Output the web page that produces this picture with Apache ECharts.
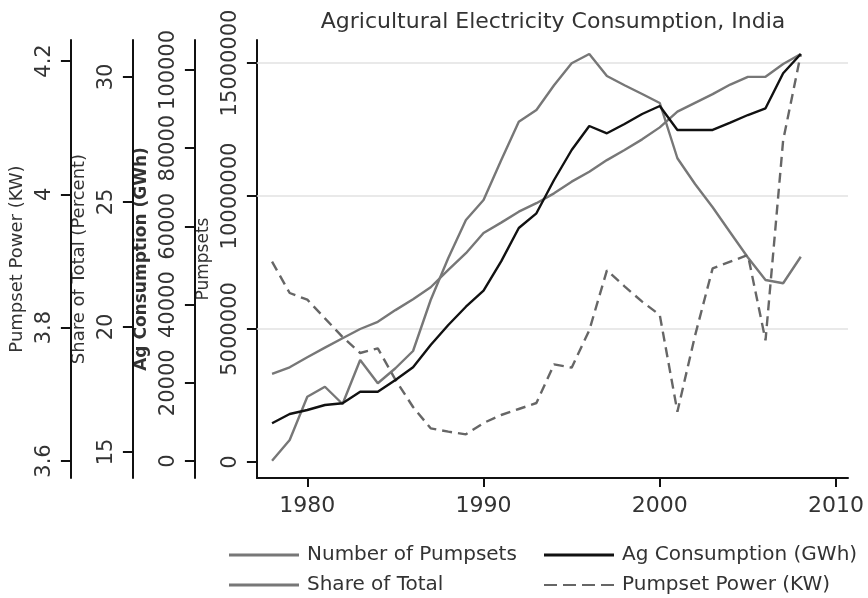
<!DOCTYPE html>
<html>
<head>
<meta charset="utf-8">
<title>Agricultural Electricity Consumption, India</title>
<script src="https://cdn.jsdelivr.net/npm/echarts@6/dist/echarts.min.js"></script>
<style>
  html, body { margin: 0; padding: 0; background: #fff; }
  #chart { width: 868px; height: 598px; }
</style>
</head>
<body>
<div id="chart"></div>
<script>
// Annual series, 1978-2008
const years = [1978, 1979, 1980, 1981, 1982, 1983, 1984, 1985, 1986, 1987,
               1988, 1989, 1990, 1991, 1992, 1993, 1994, 1995, 1996, 1997,
               1998, 1999, 2000, 2001, 2002, 2003, 2004, 2005, 2006, 2007, 2008];

// Number of electric pumpsets
const pumpsets = [3310000, 3560000, 3940000, 4300000, 4650000, 5000000, 5270000, 5710000, 6120000, 6570000,
                  7220000, 7850000, 8610000, 9000000, 9410000, 9730000, 10100000, 10540000, 10910000, 11350000,
                  11730000, 12130000, 12580000, 13170000, 13500000, 13830000, 14190000, 14480000, 14480000, 14960000, 15340000];

// Agricultural electricity consumption, GWh
const agConsumption = [9640, 12020, 13040, 14320, 14760, 17720, 17720, 20720, 23960, 29670,
                       34780, 39460, 43560, 51070, 59590, 63350, 71870, 79540, 85680, 83810,
                       86190, 88750, 90790, 84660, 84660, 84660, 86520, 88490, 90210, 99160, 104090];

// Agriculture's share of total consumption, percent
const shareOfTotal = [14.65, 15.48, 17.21, 17.61, 16.92, 18.68, 17.75, 18.35, 19.04, 21.08,
                      22.76, 24.28, 25.08, 26.67, 28.21, 28.68, 29.67, 30.55, 30.92, 30.04,
                      29.67, 29.32, 28.96, 26.75, 25.72, 24.79, 23.78, 22.78, 21.88, 21.75, 22.81];

// Average connected load per pumpset, KW
const pumpsetPower = [3.899, 3.852, 3.842, 3.814, 3.786, 3.762, 3.769, 3.722, 3.681, 3.649,
                      3.644, 3.640, 3.657, 3.669, 3.678, 3.687, 3.745, 3.740, 3.796, 3.886,
                      3.862, 3.839, 3.819, 3.674, 3.788, 3.889, 3.899, 3.909, 3.781, 4.081, 4.210];

// Tick labels
const yearTicks = [1980, 1990, 2000, 2010];
const pumpsetTicks = [0, 5000000, 10000000, 15000000];
const agTicks = [0, 20000, 40000, 60000, 80000, 100000];
const shareTicks = [15, 20, 25, 30];
const powerTicks = [3.6, 3.8, 4, 4.2];

const FONT = 'DejaVu Sans';
const LINE_W = 2.4;
const pair = arr => years.map((y, i) => [y, arr[i]]);

function leftAxis(name, min, max, offset, ticks, nameGap, nameSize, bold) {
  return {
    type: 'value', position: 'left', offset: offset, min: min, max: max,
    name: name, nameLocation: 'middle', nameGap: nameGap,
    nameTextStyle: { fontFamily: FONT, fontSize: nameSize, color: '#333', fontWeight: bold ? 'bold' : 'normal' },
    axisLine: { show: true, lineStyle: { color: '#111', width: 2 } },
    axisTick: { show: true, length: 10, customValues: ticks, lineStyle: { color: '#111', width: 2 } },
    axisLabel: { rotate: 90, margin: 16, fontFamily: FONT, fontSize: 21, color: '#333',
                 customValues: ticks, formatter: v => String(v) },
    splitLine: { show: false }
  };
}

// One legend block per key so the two columns line up like a 2x2 table
const SOLID = 'rect';
const DASHED = 'path://M0,0h13v2h-13z M19,0h13v2h-13z M38,0h13v2h-13z M57,0h13v2h-13z';
function legendKey(name, icon, left, top) {
  return {
    data: [{ name: name, icon: icon }], left: left, top: top, orient: 'horizontal',
    itemWidth: 70, itemHeight: 3, padding: 0,
    textStyle: { fontFamily: FONT, fontSize: 20, color: '#333', padding: [0, 0, 0, 3] }
  };
}

const chart = echarts.init(document.getElementById('chart'), null, { renderer: 'canvas' });

chart.setOption({
  animation: false,
  backgroundColor: '#fff',
  graphic: [{
    type: 'text', x: 553, y: 22,
    style: { text: 'Agricultural Electricity Consumption, India', font: '22px "DejaVu Sans"',
             fill: '#333', textAlign: 'center', textVerticalAlign: 'middle' }
  }],
  grid: { left: 254, right: 20, top: 40, bottom: 120, containLabel: false },
  xAxis: {
    type: 'value', min: 1977.14, max: 2010.68,
    axisLine: { show: true, onZero: false, lineStyle: { color: '#111', width: 2 } },
    axisTick: { show: true, length: 9, customValues: yearTicks, lineStyle: { color: '#111', width: 2 } },
    axisLabel: { margin: 17, fontFamily: FONT, fontSize: 22, color: '#333',
                 customValues: yearTicks, formatter: v => String(v) },
    splitLine: { show: false }
  },
  yAxis: [
    leftAxis('Pumpsets', -601500, 15865000, 0, pumpsetTicks, 37, 17, false),
    leftAxis('Ag Consumption (GWh)', -4348, 107673, 62, agTicks, 38, 17, true),
    leftAxis('Share of Total (Percent)', 13.96, 31.48, 124, shareTicks, 35, 18, false),
    leftAxis('Pumpset Power (KW)', 3.5745, 4.2315, 186, powerTicks, 39, 18, false)
  ],
  legend: [
    legendKey('Number of Pumpsets', SOLID, 229, 545),
    legendKey('Share of Total', SOLID, 229, 575),
    legendKey('Ag Consumption (GWh)', SOLID, 544, 545),
    legendKey('Pumpset Power (KW)', DASHED, 544, 575)
  ],
  series: [
    { name: 'Number of Pumpsets', type: 'line', yAxisIndex: 0, data: pair(pumpsets),
      symbol: 'none', showSymbol: false, lineStyle: { color: '#777', width: LINE_W }, itemStyle: { color: '#777' },
      z: 3,
      markLine: { silent: true, symbol: 'none', label: { show: false },
                  lineStyle: { color: '#e2e2e2', width: 1.5, type: 'solid' },
                  data: pumpsetTicks.slice(1).map(v => ({ yAxis: v })), z: 1 } },
    { name: 'Ag Consumption (GWh)', type: 'line', yAxisIndex: 1, data: pair(agConsumption),
      symbol: 'none', showSymbol: false, lineStyle: { color: '#111', width: LINE_W }, itemStyle: { color: '#111' }, z: 4 },
    { name: 'Share of Total', type: 'line', yAxisIndex: 2, data: pair(shareOfTotal),
      symbol: 'none', showSymbol: false, lineStyle: { color: '#777', width: LINE_W }, itemStyle: { color: '#777' }, z: 3 },
    { name: 'Pumpset Power (KW)', type: 'line', yAxisIndex: 3, data: pair(pumpsetPower),
      symbol: 'none', showSymbol: false, lineStyle: { color: '#666', width: LINE_W, type: [10, 6] },
      itemStyle: { color: '#666' }, z: 3 }
  ]
});
</script>
</body>
</html>
